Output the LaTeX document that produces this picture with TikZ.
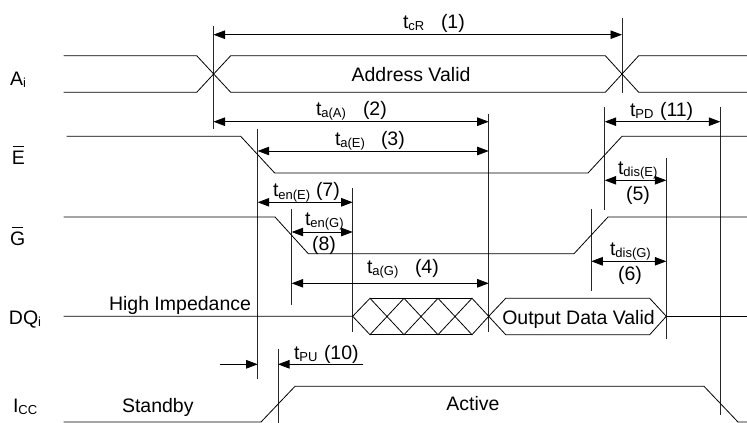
\documentclass[tikz,border=0pt]{standalone}
\usepackage{fontspec}
\setmainfont{Liberation Sans}
\usetikzlibrary{arrows.meta}
\newcommand{\lowsub}[1]{\raisebox{-2.5pt}{\fontsize{13}{13}\selectfont #1}}
\newcommand{\barred}[1]{\ooalign{#1\cr\hidewidth\rule[17.5pt]{11pt}{1pt}\hidewidth\cr}}
\tikzset{
  wave/.style={draw=black,line width=0.8pt,line join=miter},
  guide/.style={draw=black!85,line width=0.8pt},
  dim/.style={draw=black,line width=0.8pt,{Triangle[length=11.5pt,width=8.5pt]}-{Triangle[length=11.5pt,width=8.5pt]}},
  dimin/.style={draw=black,line width=0.8pt,-{Triangle[length=11.5pt,width=8.5pt]}},
  txt/.style={anchor=base west,inner sep=0pt,outer sep=0pt,font=\fontsize{19.5}{19.5}\selectfont},
  txc/.style={anchor=base,inner sep=0pt,outer sep=0pt,font=\fontsize{19.5}{19.5}\selectfont}
}
\begin{document}
\begin{tikzpicture}[x=1pt,y=-1pt]
\useasboundingbox (0,0) rectangle (747,423);
% guides
\coordinate (gA1) at (213.5,25.7); \coordinate (gA2) at (213.5,129.3);
\coordinate (gB1) at (622,18); \coordinate (gB2) at (622,92.7);
\coordinate (gC1) at (257.7,129.3); \coordinate (gC2) at (257.7,378.7);
\coordinate (gD1) at (488.7,114); \coordinate (gD2) at (488.7,331.7);
\coordinate (gE1) at (352.7,188.3); \coordinate (gE2) at (352.7,331.7);
\coordinate (gF1) at (291.7,209); \coordinate (gF2) at (291.7,305);
\coordinate (gG1) at (604.7,107); \coordinate (gG2) at (604.7,210);
\coordinate (gH1) at (720.3,107); \coordinate (gH2) at (720.3,415);
\coordinate (gI1) at (666.3,158.3); \coordinate (gI2) at (666.3,339.3);
\coordinate (gJ1) at (591.3,209.3); \coordinate (gJ2) at (591.3,291);
\coordinate (gK1) at (278,349.3); \coordinate (gK2) at (278,423);
\foreach \g in {A,B,C,D,E,F,G,H,I,J,K} \draw[guide] (g\g1) -- (g\g2);
% waves
\draw[wave] (63.5,55.7) -- (196.7,55.7) -- (230.7,92.3) -- (605.3,92.3) -- (638.7,55.7) -- (747,55.7);
\draw[wave] (63.5,92.3) -- (196.7,92.3) -- (230.7,55.7) -- (605.3,55.7) -- (638.7,92.3) -- (747,92.3);
\draw[wave] (66.7,136.3) -- (240.7,136.3) -- (274.7,173) -- (588,173) -- (622,136.3) -- (747,136.3);
\draw[wave] (63.5,217) -- (275,217) -- (308.3,253.7) -- (574,253.7) -- (608,217) -- (747,217);
\draw[wave] (63.5,316.3) -- (352.7,316.3) -- (370,298.3) -- (404,334.7) -- (438,298.3) -- (472,334.7) -- (488.7,316.3);
\draw[wave] (352.7,316.3) -- (370,334.7) -- (404,298.3) -- (438,334.7) -- (472,298.3) -- (488.7,316.3);
\draw[wave] (370,298.3) -- (472,298.3) (370,334.7) -- (472,334.7);
\draw[wave] (488.7,316.3) -- (505.7,298.3) -- (649.7,298.3) -- (666.3,316.3) -- (649.7,334.7) -- (505.7,334.7) -- cycle;
\draw[wave] (666.3,316.3) -- (747,316.3);
\draw[wave] (63.5,422) -- (261,422) -- (295,386.3) -- (704,386.3) -- (738,422) -- (747,422);
% dimensions
\coordinate (a1) at (213.5,34.7); \coordinate (a2) at (622,34.7);
\coordinate (b1) at (213.5,121.7); \coordinate (b2) at (488.7,121.7);
\coordinate (c1) at (257.7,151); \coordinate (c2) at (488.7,151);
\coordinate (d1) at (257.7,202.3); \coordinate (d2) at (352.7,202.3);
\coordinate (e1) at (291.7,232); \coordinate (e2) at (352.7,232);
\coordinate (f1) at (291.7,283.3); \coordinate (f2) at (488.7,283.3);
\coordinate (g1) at (604.7,121.7); \coordinate (g2) at (720.3,121.7);
\coordinate (h1) at (604.7,180.3); \coordinate (h2) at (666.3,180.3);
\coordinate (i1) at (591.3,261.3); \coordinate (i2) at (666.3,261.3);
\foreach \p in {a,b,c,d,e,f,g,h,i} \draw[dim] (\p1) -- (\p2);
\coordinate (pu1) at (220,364.3); \coordinate (pu2) at (257.7,364.3);
\coordinate (pu3) at (363.3,364.3); \coordinate (pu4) at (278,364.3);
\draw[dimin] (pu1) -- (pu2);
\draw[dimin] (pu3) -- (pu4);
% signal names
\node[txt] (lA) at (10,85) {A\lowsub{i}};
\node[txt] (lE) at (12,164) {\barred{E}};
\node[txt] (lG) at (10,245) {\barred{G}};
\node[txt] (lD) at (9,324) {DQ\lowsub{i}};
\node[txt] (lI) at (13,412) {I\lowsub{CC}};
% labels
\node[txt] (t1) at (403,28) {t\lowsub{cR}};
\node[txt] (n1) at (441,28) {(1)};
\node[txc] (av) at (411,81) {Address Valid};
\node[txt] (t2) at (316,115) {t\lowsub{a(A)}};
\node[txt] (n2) at (363,115) {(2)};
\node[txt] (t3) at (335,145) {t\lowsub{a(E)}};
\node[txt] (n3) at (381,145) {(3)};
\node[txt] (t11) at (630,116) {t\lowsub{PD}};
\node[txt] (n11) at (660,116) {(11)};
\node[txt] (t5) at (618,174) {t\lowsub{dis(E)}};
\node[txc] (n5) at (638,200) {(5)};
\node[txt] (t7) at (273,196.7) {t\lowsub{en(E)}};
\node[txt] (n7) at (316,196.7) {(7)};
\node[txt] (t8) at (305,225) {t\lowsub{en(G)}};
\node[txc] (n8) at (324,250) {(8)};
\node[txt] (t6) at (610,255) {t\lowsub{dis(G)}};
\node[txc] (n6) at (630,280) {(6)};
\node[txt] (t4) at (367,273) {t\lowsub{a(G)}};
\node[txt] (n4) at (415,273) {(4)};
\node[txt] (hi) at (109,310) {High Impedance};
\node[txc] (od) at (578.5,324) {Output Data Valid};
\node[txt] (t10) at (294,359) {t\lowsub{PU}};
\node[txt] (n10) at (324,359) {(10)};
\node[txt] (sb) at (122,412) {Standby};
\node[txc] (ac) at (473,410) {Active};
\end{tikzpicture}
\end{document}
